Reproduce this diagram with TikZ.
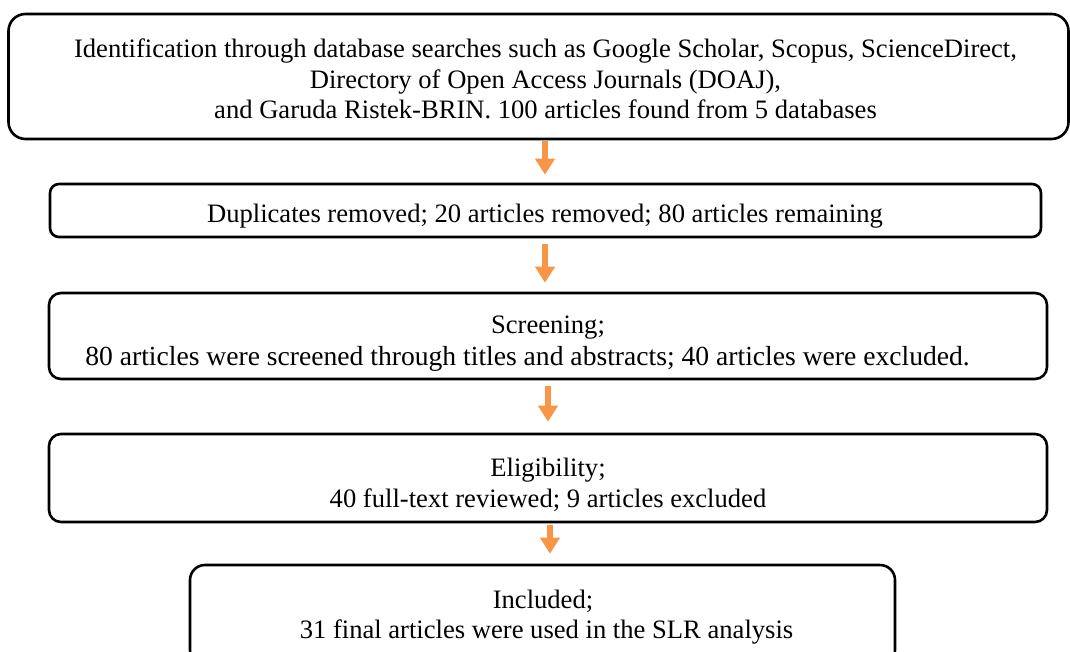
\documentclass[tikz,border=0pt]{standalone}
\usepackage{fontspec}
\setmainfont{Liberation Serif}
\usetikzlibrary{arrows.meta}
\definecolor{arrorange}{HTML}{F79646}
\begin{document}
\begin{tikzpicture}[x=1pt,y=-1pt,
  box/.style={draw=black, line width=2.6pt, inner sep=0pt, fill=white},
  txt/.style={font=\fontsize{26.6}{30}\selectfont, inner sep=0pt, anchor=base},
  flow/.style={draw=arrorange, line width=6pt, -{Triangle[width=19pt,length=16pt]}}]
\useasboundingbox (0,0) rectangle (1070,651);
\clip (0,0) rectangle (1070,651);
\fill[white] (0,0) rectangle (1070,651);
% boxes
\node[box, rounded corners=17pt, minimum width=1060pt, minimum height=125pt] (b1) at (538.5,76.5) {};
\node[box, rounded corners=9pt, minimum width=991pt, minimum height=53pt] (b2) at (545.5,210.5) {};
\node[box, rounded corners=12pt, minimum width=998pt, minimum height=86pt] (b3) at (548,336) {};
\node[box, rounded corners=12pt, minimum width=998pt, minimum height=88pt] (b4) at (548,478) {};
\node[box, rounded corners=15pt, minimum width=705pt, minimum height=100pt] (b5) at (542.5,615) {};
% texts
\node[txt] (t1a) at (545.5,57) {Identification through database searches such as Google Scholar, Scopus, ScienceDirect,};
\node[txt] (t1b) at (545.5,88) {Directory of Open Access Journals (DOAJ),};
\node[txt] (t1c) at (545.5,118) {and Garuda Ristek-BRIN. 100 articles found from 5 databases};
\node[txt] (t2) at (545,222) {Duplicates removed; 20 articles removed; 80 articles remaining};
\node[txt] (t3a) at (548,333) {Screening;};
\node[txt, font=\fontsize{27.6}{30}\selectfont] (t3b) at (527.5,365) {80 articles were screened through titles and abstracts; 40 articles were excluded.};
\node[txt] (t4a) at (548,476) {Eligibility;};
\node[txt] (t4b) at (548,507) {40 full-text reviewed; 9 articles excluded};
\node[txt] (t5a) at (543,608) {Included;};
\node[txt] (t5b) at (546.5,638) {31 final articles were used in the SLR analysis};
% arrows
\coordinate (x1) at (545,0);
\coordinate (x2) at (545,0);
\coordinate (x3) at (548,0);
\coordinate (x4) at (550,0);
\draw[flow, shorten <=1pt, shorten >=8pt] (x1 |- b1.south) -- (x1 |- b2.north);
\draw[flow, shorten <=6pt, shorten >=9pt] (x2 |- b2.south) -- (x2 |- b3.north);
\draw[flow, shorten <=6pt, shorten >=11pt] (x3 |- b3.south) -- (x3 |- b4.north);
\draw[flow, shorten <=2pt, shorten >=10pt] (x4 |- b4.south) -- (x4 |- b5.north);
\end{tikzpicture}
\end{document}
